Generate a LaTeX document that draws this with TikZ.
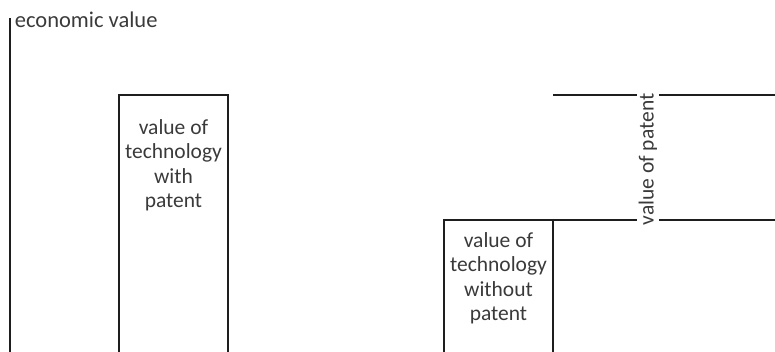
\documentclass[tikz,border=0pt]{standalone}
\usepackage{fontspec}
\setmainfont{Carlito}
\usepackage{xcolor}
\usepackage{tikz}
\usetikzlibrary{positioning}
\definecolor{inkgray}{HTML}{1E1E1E}
\definecolor{textgray}{HTML}{3A3A3A}

\begin{document}
\begin{tikzpicture}[x=1pt ,y=-1pt ,line width=1.8pt ,draw=inkgray ,bar/.style ={ rectangle ,draw ,inkgray ,outer sep=0pt ,minimum width =109pt ,anchor=north west} ,caption/.style ={ text=textgray ,font=\fontsize{21.5}{24.5}\selectfont ,align=center}]
\useasboundingbox (0,0) rectangle (775,351);
\coordinate (origin) at (10,360);
\coordinate (top) at (10,18);
\draw[inkgray] (origin) -- (top);
\node[caption ,font=\fontsize{22.5}{26}\selectfont ,anchor=base west ,inner sep=0pt] (axis) at (14,27) { economic value };
\node[bar ,minimum height =270pt] (with) at (119,95) {};
\node[caption] (withtext) [below = 20pt of with.north] { value of\\technology\\with\\patent };
\node[bar ,minimum height =145pt] (without) at (444,220) {};
\node[caption] (withouttext) [below = 8pt of without.north] { value of\\technology\\without\\patent };
\coordinate (low) at (775,220);
\coordinate (highleft) at (553,95);
\coordinate (high) at (775,95);
\draw[inkgray] (without.north east) -- (low);
\draw[inkgray] (highleft) -- (high);
\node[caption ,rotate=90 ,fill=white ,inner sep=2pt] (patent) at (648,157) { value of patent };
\end{tikzpicture}
\end{document}
